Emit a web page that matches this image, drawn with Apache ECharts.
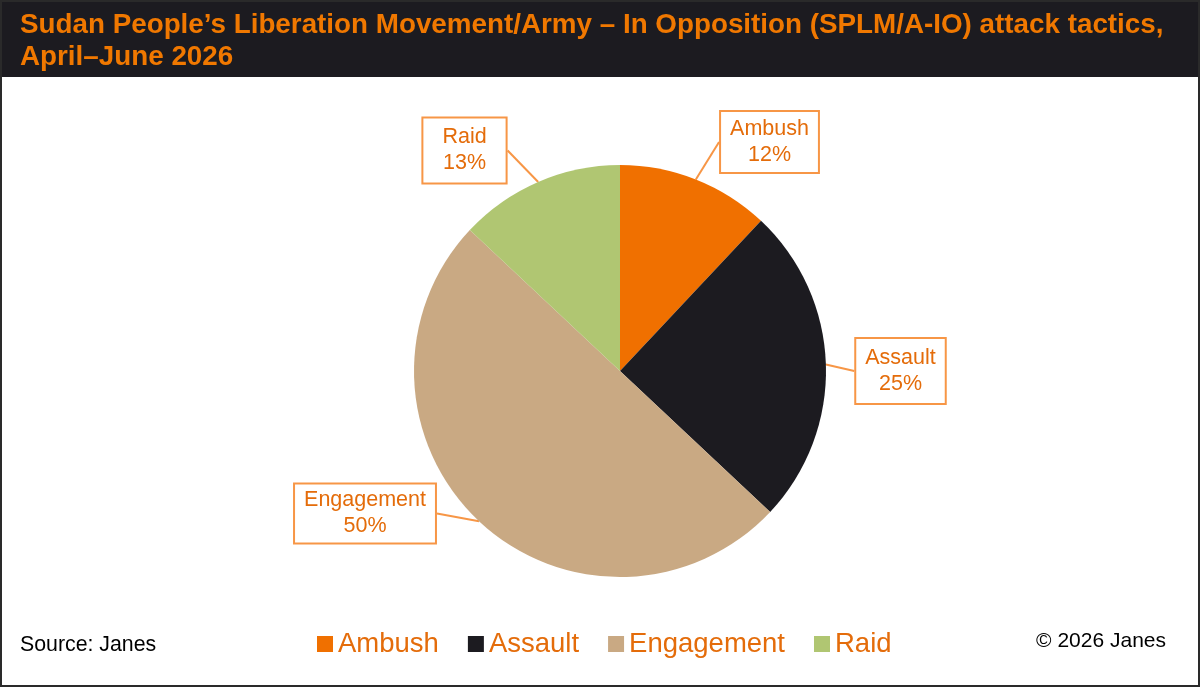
<!DOCTYPE html>
<html>
<head>
<meta charset="utf-8">
<title>SPLM/A-IO attack tactics</title>
<script src="https://cdn.jsdelivr.net/npm/echarts@6/dist/echarts.min.js"></script>
<style>
  html, body { margin: 0; padding: 0; background: #fff; }
  #chart { width: 1200px; height: 687px; }
</style>
</head>
<body>
<div id="chart"></div>
<script>
// data
const tactics = ['Ambush', 'Assault', 'Engagement', 'Raid'];
const shares = [12, 25, 50, 13];
const sliceColors = ['#f07000', '#1c1b20', '#c9a983', '#b0c672'];

// callout boxes: centre (px) and padding, per tactic
const calloutPos = {
  Ambush: [769.5, 142],
  Assault: [900.5, 371],
  Engagement: [365, 513.5],
  Raid: [464.5, 150.5]
};
const calloutPad = {
  Ambush: [4, 9],
  Assault: [6, 9],
  Engagement: [3, 9],
  Raid: [6, 19]
};

const FONT = '"Liberation Sans", Arial, sans-serif';
const ORANGE = '#e46c0a';

const chart = echarts.init(document.getElementById('chart'));

const option = {
  backgroundColor: '#fff',
  animation: false,
  color: sliceColors,
  title: {
    text: 'Sudan People\u2019s Liberation Movement/Army \u2013 In Opposition (SPLM/A-IO) attack tactics,\nApril\u2013June 2026',
    left: 20,
    top: 9,
    padding: 0,
    textStyle: {
      color: '#f07800',
      fontFamily: FONT,
      fontWeight: 'bold',
      fontSize: 27.8,
      lineHeight: 32
    }
  },
  graphic: [
    {
      type: 'rect',
      z: -1,
      shape: { x: 0, y: 0, width: 1200, height: 77 },
      style: { fill: '#1c1b20' }
    },
    {
      type: 'rect',
      z: 10,
      shape: { x: 1, y: 1, width: 1198, height: 685 },
      style: { fill: 'none', stroke: '#2a2a2a', lineWidth: 2 }
    },
    {
      type: 'text',
      left: 20,
      top: 635,
      style: { text: 'Source: Janes', fill: '#000', font: '21.3px ' + FONT }
    },
    {
      type: 'text',
      right: 34,
      top: 631,
      style: { text: '\u00a9 2026 Janes', fill: '#000', font: '21px ' + FONT }
    }
  ],
  legend: {
    data: tactics,
    left: 312,
    top: 625,
    icon: 'rect',
    itemWidth: 16,
    itemHeight: 16,
    itemGap: 29,
    textStyle: { color: ORANGE, fontSize: 27.5, fontFamily: FONT }
  },
  series: [
    {
      type: 'pie',
      center: [620, 371],
      radius: 206,
      startAngle: 90,
      clockwise: true,
      silent: true,
      itemStyle: { borderWidth: 0 },
      label: {
        show: true,
        formatter: '{b}\n{d}%',
        color: ORANGE,
        fontFamily: FONT,
        fontSize: 21.5,
        lineHeight: 26,
        align: 'center',
        backgroundColor: '#fff',
        borderColor: '#f79646',
        borderWidth: 2
      },
      labelLine: {
        show: true,
        length: 0,
        length2: 0,
        smooth: false,
        lineStyle: { color: '#f79646', width: 2 }
      },
      labelLayout: function (params) {
        const p = calloutPos[tactics[params.dataIndex]];
        return { x: p[0], y: p[1], align: 'center', verticalAlign: 'middle' };
      },
      data: tactics.map((t, i) => ({
        name: t,
        value: shares[i],
        label: { padding: calloutPad[t] }
      }))
    }
  ]
};

chart.setOption(option);
</script>
</body>
</html>
